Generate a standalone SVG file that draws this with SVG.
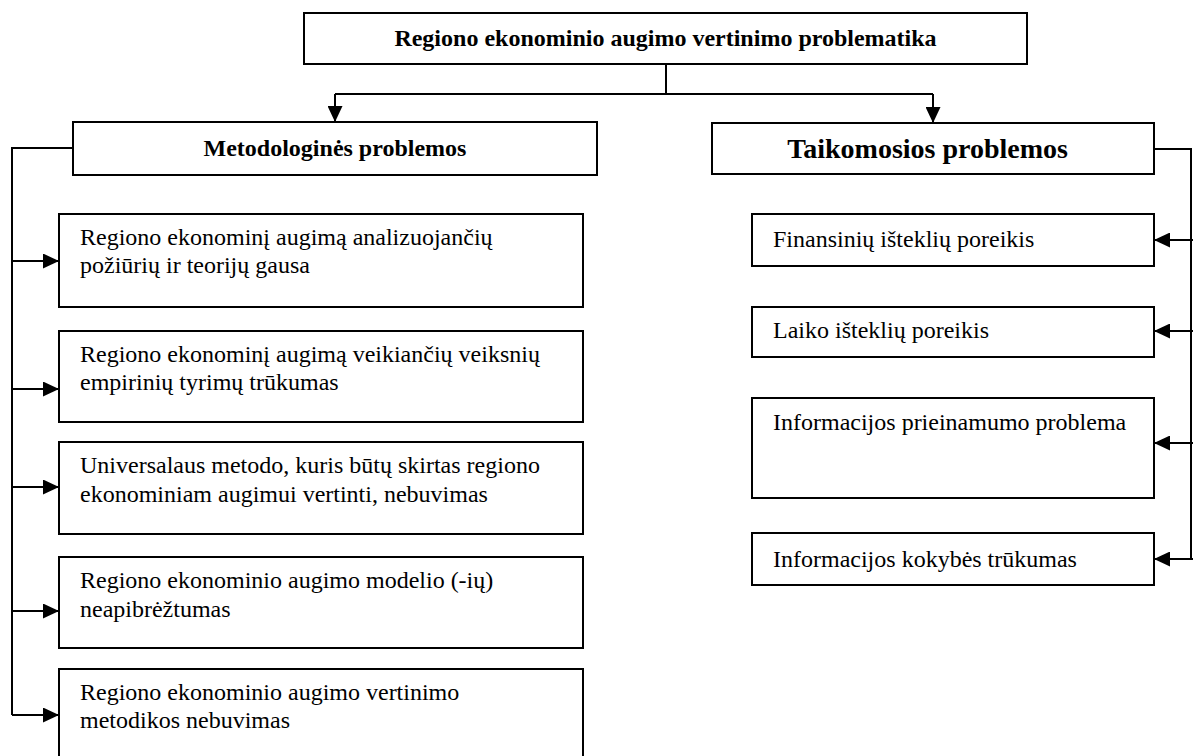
<svg xmlns="http://www.w3.org/2000/svg" width="1193" height="756" viewBox="0 0 1193 756">
<defs>
<style>
.box{fill:#fff;stroke:#000;stroke-width:2}
.t{font-family:"Liberation Serif","Times New Roman",serif;font-size:24px;fill:#000}
.b{font-weight:bold}
.c{fill:none;stroke:#000;stroke-width:2}
</style>
<marker id="ah" markerWidth="16" markerHeight="15" refX="16" refY="7.5" orient="auto" markerUnits="userSpaceOnUse">
<path d="M0,0 L16,7.5 L0,15 Z" fill="#000"/>
</marker>
</defs>
<rect width="1193" height="756" fill="#fff"/>
<g id="connectors">
<path class="c" d="M666,64 V94"/>
<path class="c" d="M335,94 H933"/>
<path class="c" d="M335,94 V122" marker-end="url(#ah)"/>
<path class="c" d="M933,94 V123" marker-end="url(#ah)"/>
<path class="c" d="M73,148 H12 V715"/>
<path class="c" d="M12,261 H59" marker-end="url(#ah)"/>
<path class="c" d="M12,389 H59" marker-end="url(#ah)"/>
<path class="c" d="M12,487 H59" marker-end="url(#ah)"/>
<path class="c" d="M12,611 H59" marker-end="url(#ah)"/>
<path class="c" d="M12,715 H59" marker-end="url(#ah)"/>
<path class="c" d="M1154,149 H1191 V559"/>
<path class="c" d="M1193,240 H1154" marker-end="url(#ah)"/>
<path class="c" d="M1193,331 H1154" marker-end="url(#ah)"/>
<path class="c" d="M1193,443 H1154" marker-end="url(#ah)"/>
<path class="c" d="M1193,559 H1154" marker-end="url(#ah)"/>
</g>
<g id="title">
<rect class="box" x="304" y="13" width="723" height="51"/>
<text class="t b" x="665.5" y="46" text-anchor="middle">Regiono ekonominio augimo vertinimo problematika</text>
</g>
<g id="metod">
<rect class="box" x="73" y="122" width="524" height="53"/>
<text class="t b" x="335" y="156" text-anchor="middle">Metodologinės problemos</text>
</g>
<g id="taik">
<rect class="box" x="712" y="123" width="442" height="51"/>
<text class="t b" x="1068" y="158" text-anchor="end" style="font-size:28px">Taikomosios problemos</text>
</g>
<g id="l1">
<rect class="box" x="59" y="214" width="524" height="93"/>
<text class="t" x="80" y="245">Regiono ekonominį augimą analizuojančių</text>
<text class="t" x="80" y="273">požiūrių ir teorijų gausa</text>
</g>
<g id="l2">
<rect class="box" x="59" y="331" width="524" height="91"/>
<text class="t" x="80" y="362">Regiono ekonominį augimą veikiančių veiksnių</text>
<text class="t" x="80" y="390">empirinių tyrimų trūkumas</text>
</g>
<g id="l3">
<rect class="box" x="59" y="442" width="524" height="92"/>
<text class="t" x="80" y="473">Universalaus metodo, kuris būtų skirtas regiono</text>
<text class="t" x="80" y="502">ekonominiam augimui vertinti, nebuvimas</text>
</g>
<g id="l4">
<rect class="box" x="59" y="557" width="524" height="91"/>
<text class="t" x="80" y="588">Regiono ekonominio augimo modelio (-ių)</text>
<text class="t" x="80" y="617">neapibrėžtumas</text>
</g>
<g id="l5">
<rect class="box" x="59" y="669" width="524" height="100"/>
<text class="t" x="80" y="700">Regiono ekonominio augimo vertinimo</text>
<text class="t" x="80" y="728">metodikos nebuvimas</text>
</g>
<g id="r1">
<rect class="box" x="752" y="214" width="402" height="52"/>
<text class="t" x="773" y="247">Finansinių išteklių poreikis</text>
</g>
<g id="r2">
<rect class="box" x="752" y="307" width="402" height="50"/>
<text class="t" x="773" y="338">Laiko išteklių poreikis</text>
</g>
<g id="r3">
<rect class="box" x="752" y="398" width="402" height="100"/>
<text class="t" x="773" y="430">Informacijos prieinamumo problema</text>
</g>
<g id="r4">
<rect class="box" x="752" y="533" width="402" height="52"/>
<text class="t" x="773" y="567">Informacijos kokybės trūkumas</text>
</g>
</svg>
